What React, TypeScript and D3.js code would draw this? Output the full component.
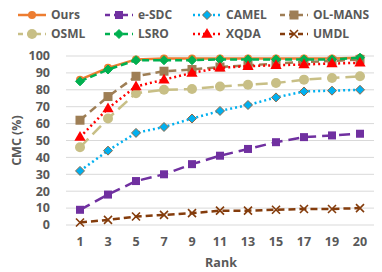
import React from "react";
import * as d3 from "d3";

const ranks = ["1", "3", "5", "7", "9", "11", "13", "15", "17", "19", "20"];
const yTicks = [0, 10, 20, 30, 40, 50, 60, 70, 80, 90, 100];

const ours = [86, 93, 98, 98.5, 98.5, 98.5, 98.5, 98.5, 98.5, 98.5, 99];
const eSDC = [9, 18, 26, 30, 36, 41, 45, 49, 52, 53, 54];
const camel = [32, 44, 54.5, 58, 63, 67.5, 71, 75.5, 79, 79.5, 80];
const olMans = [62, 76, 88, 91, 92, 93.5, 94.5, 95.5, 96.5, 97, 98];
const osml = [46, 63, 78, 80, 80.5, 82, 83, 84, 86, 87, 88];
const lsro = [85, 92, 97.5, 97.5, 97.5, 98, 98, 98, 98, 98, 99];
const xqda = [52, 69, 82, 86, 90, 93, 94, 94.5, 95, 95.5, 96];
const umdl = [1.5, 3, 5, 6, 7, 8.5, 8.5, 9, 9.5, 9.5, 10];

type Series = {
  name: string;
  values: number[];
  color: string;
  dash: string;
  marker: string;
  markerStroke?: string;
};

const series: Series[] = [
  { name: "Ours", values: ours, color: "#ED7D31", dash: "", marker: "circle" },
  { name: "e-SDC", values: eSDC, color: "#7030A0", dash: "11,6", marker: "square" },
  { name: "CAMEL", values: camel, color: "#00B0F0", dash: "2,3", marker: "diamond", markerStroke: "#8C6A4A" },
  { name: "OL-MANS", values: olMans, color: "#9E7E55", dash: "8,5", marker: "bigsquare" },
  { name: "OSML", values: osml, color: "#C8BF86", dash: "12,6", marker: "bigcircle" },
  { name: "LSRO", values: lsro, color: "#00B050", dash: "7,4", marker: "diamond" },
  { name: "XQDA", values: xqda, color: "#FF0000", dash: "2,3", marker: "triangle" },
  { name: "UMDL", values: umdl, color: "#843C0C", dash: "7,4", marker: "x" },
];

const font = "'Open Sans', 'Liberation Sans', sans-serif";
const gray = "#595959";

function Marker({ kind, x, y, color, stroke }: { kind: string; x: number; y: number; color: string; stroke?: string }) {
  switch (kind) {
    case "circle":
      return <circle cx={x} cy={y} r={4} fill={color} />;
    case "bigcircle":
      return <circle cx={x} cy={y} r={5} fill={color} />;
    case "square":
      return <rect x={x - 4} y={y - 4} width={8} height={8} fill={color} />;
    case "bigsquare":
      return <rect x={x - 4.5} y={y - 4.5} width={9} height={9} fill={color} />;
    case "diamond":
      return (
        <path
          d={`M${x},${y - 4.5}L${x + 4.5},${y}L${x},${y + 4.5}L${x - 4.5},${y}Z`}
          fill={color}
          stroke={stroke || color}
          strokeWidth={1}
        />
      );
    case "triangle":
      return <path d={d3.symbol(d3.symbolTriangle, 55)()!} transform={`translate(${x},${y + 0.5})`} fill={color} />;
    case "x":
      return (
        <path
          d={`M${x - 4},${y - 4}L${x + 4},${y + 4}M${x - 4},${y + 4}L${x + 4},${y - 4}`}
          stroke={color}
          strokeWidth={1.6}
        />
      );
  }
  return null;
}

export default function App() {
  const width = 382;
  const height = 272;
  const x = d3.scalePoint<string>().domain(ranks).range([80, 360]);
  const y = d3.scaleLinear().domain([0, 100]).range([225, 56]);
  const line = d3
    .line<number>()
    .x((_, i) => x(ranks[i])!)
    .y((d) => y(d));

  const legendCols = [18, 105, 193, 280];
  const legendRows = [15, 34];

  return (
    <svg
      width={width}
      height={height}
      style={{ position: "absolute", left: 0, top: 0, background: "#fff" }}
      fontFamily={font}
    >
      {yTicks.map((t) => (
        <g key={t}>
          <line x1={66} x2={374} y1={y(t)} y2={y(t)} stroke="#D9D9D9" strokeWidth={1} />
          <text x={50} y={y(t)} dy="0.35em" textAnchor="end" fontSize={12.5} fontWeight="bold" fill={gray}>
            {t}
          </text>
        </g>
      ))}
      {ranks.map((r) => (
        <text key={r} x={x(r)} y={246} textAnchor="middle" fontSize={12.5} fontWeight="bold" fill={gray}>
          {r}
        </text>
      ))}
      <text x={221} y={267} textAnchor="middle" fontSize={12.5} fontWeight="bold" fill={gray}>
        Rank
      </text>
      <text
        transform={`translate(21,${y(50)}) rotate(-90)`}
        textAnchor="middle"
        fontSize={12.5}
        fontWeight="bold"
        fill={gray}
      >
        CMC (%)
      </text>

      {series.map((s) => (
        <g key={s.name}>
          <path d={line(s.values)!} fill="none" stroke={s.color} strokeWidth={2.5} strokeDasharray={s.dash} />
          {s.values.map((v, i) => (
            <Marker key={i} kind={s.marker} x={x(ranks[i])!} y={y(v)} color={s.color} stroke={s.markerStroke} />
          ))}
        </g>
      ))}

      {series.map((s, i) => {
        const lx = legendCols[i % 4];
        const ly = legendRows[Math.floor(i / 4)];
        return (
          <g key={"lg" + s.name}>
            <line x1={lx} x2={lx + 28} y1={ly} y2={ly} stroke={s.color} strokeWidth={2.5} strokeDasharray={s.dash ? (s.dash === "2,3" ? "2,3" : "5,4") : ""} />
            <Marker kind={s.marker} x={lx + 14} y={ly} color={s.color} stroke={s.markerStroke} />
            <text x={lx + 33} y={ly} dy="0.35em" fontSize={12} fontWeight="bold" fill={gray}>
              {s.name}
            </text>
          </g>
        );
      })}
    </svg>
  );
}
